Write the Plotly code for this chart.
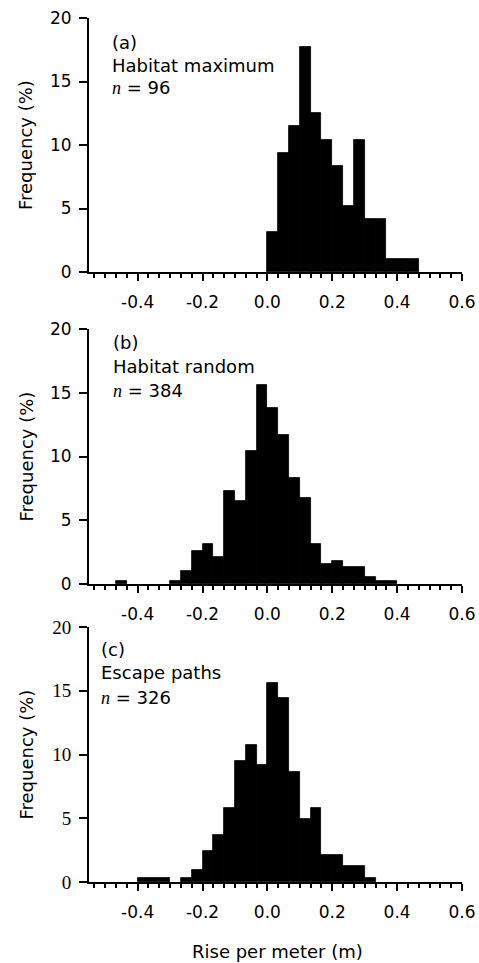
import plotly.graph_objects as go

# ---- data (bin left edges in m, frequencies in %) ----
BIN_WIDTH = 1 / 30

a_left = [0.000, 0.03333, 0.06667, 0.100, 0.13333, 0.16667, 0.200, 0.23333, 0.26667, 0.300, 0.33333, 0.36667, 0.400, 0.43333]
a_freq = [3.13, 9.38, 11.46, 17.71, 12.50, 10.42, 8.33, 5.21, 10.42, 4.17, 4.17, 1.04, 1.04, 1.04]

b_left = [-0.46667, -0.300, -0.26667, -0.23333, -0.200, -0.16667, -0.13333, -0.100, -0.06667, -0.03333,
          0.000, 0.03333, 0.06667, 0.100, 0.13333, 0.16667, 0.200, 0.23333, 0.26667, 0.300, 0.33333, 0.36667]
b_freq = [0.26, 0.26, 1.04, 2.60, 3.13, 2.08, 7.29, 6.51, 10.42, 15.63,
          13.80, 11.72, 8.33, 6.77, 3.13, 1.56, 1.82, 1.30, 1.30, 0.52, 0.26, 0.26]

c_left = [-0.400, -0.36667, -0.33333, -0.26667, -0.23333, -0.200, -0.16667, -0.13333, -0.100, -0.06667, -0.03333,
          0.000, 0.03333, 0.06667, 0.100, 0.13333, 0.16667, 0.200, 0.23333, 0.26667, 0.300]
c_freq = [0.31, 0.31, 0.31, 0.31, 0.92, 2.45, 3.68, 5.83, 9.51, 10.74, 9.20,
          15.64, 14.42, 8.59, 4.91, 5.83, 2.15, 2.15, 1.23, 1.23, 0.31]

panel_letters = ["(a)", "(b)", "(c)"]
panel_names = ["Habitat maximum", "Habitat random", "Escape paths"]
panel_n = [96, 384, 326]

x_tickvals = [-0.4, -0.2, 0.0, 0.2, 0.4, 0.6]
x_ticktext = ["-0.4", "-0.2", "0.0", "0.2", "0.4", "0.6"]
y_tickvals = [0, 5, 10, 15, 20]
y_ticktext = ["0", "5", "10", "15", "20"]

# ---- layout geometry (pixels) ----
W, H = 479, 963
L, R, T, B = 89, 17, 18, 81
plot_h = H - T - B
panels_px = [(18, 272), (329, 584), (627, 882)]  # (top, bottom) of each plot area


def py(p):
    return (H - B - p) / plot_h


def px(p):
    return (p - L) / (W - L - R)


SANS = "DejaVu Sans"
SERIF = "Liberation Serif"

fig = go.Figure()
series = [(a_left, a_freq), (b_left, b_freq), (c_left, c_freq)]
for i, (xl, yv) in enumerate(series):
    k = "" if i == 0 else str(i + 1)
    fig.add_trace(go.Bar(
        x=xl, y=yv, width=BIN_WIDTH, offset=0,
        marker=dict(color="black", line=dict(width=0.8, color="black")),
        xaxis="x" + k, yaxis="y" + k, showlegend=False, hoverinfo="x+y",
    ))

layout = dict(
    width=W, height=H, autosize=False,
    margin=dict(l=L, r=R, t=T, b=B, autoexpand=False),
    paper_bgcolor="white", plot_bgcolor="white",
    bargap=0,
    font=dict(family=SANS, size=17, color="black"),
    annotations=[],
)

for i, (top, bot) in enumerate(panels_px):
    k = "" if i == 0 else str(i + 1)
    layout["xaxis" + k] = dict(
        domain=[0, 1], anchor="y" + k, range=[-0.55, 0.6],
        tickvals=x_tickvals, ticktext=x_ticktext,
        ticks="outside", ticklen=7, tickwidth=2, tickcolor="black",
        minor=dict(dtick=BIN_WIDTH, tick0=0, ticks="outside", ticklen=4, tickwidth=1.5, tickcolor="black"),
        showline=True, linecolor="black", linewidth=2,
        showgrid=False, zeroline=False, fixedrange=True, automargin=False,
        tickfont=dict(family=SANS, size=17), ticklabelstandoff=7,
        ticklabeloverflow="allow",
    )
    layout["yaxis" + k] = dict(
        domain=[py(bot), py(top)], anchor="x" + k, range=[0, 20],
        tickvals=y_tickvals, ticktext=y_ticktext,
        ticks="outside", ticklen=8, tickwidth=2, tickcolor="black",
        showline=True, linecolor="black", linewidth=2,
        showgrid=False, zeroline=False, fixedrange=True, automargin=False,
        tickfont=dict(family=SERIF if i == 2 else SANS, size=19 if i == 2 else 17),
        ticklabelstandoff=4,
    )
    # y-axis title
    layout["annotations"].append(dict(
        text="Frequency (%)", textangle=-90, xref="paper", yref="paper",
        x=px(26), y=py((top + bot) / 2), xanchor="center", yanchor="middle",
        showarrow=False, font=dict(family=SANS, size=18),
    ))

text_pos = [(110, 42, 65, 88), (111, 342, 366, 390), (99, 650, 672, 697)]
for i in range(3):
    x0, y1, y2, y3 = text_pos[i]
    lines = [
        (panel_letters[i], y1),
        (panel_names[i], y2),
        ("<span style='font-family:Liberation Serif;font-style:italic'>n</span> = %d" % panel_n[i], y3),
    ]
    for txt, yy in lines:
        layout["annotations"].append(dict(
            text=txt, xref="paper", yref="paper", x=px(x0), y=py(yy),
            xanchor="left", yanchor="middle", showarrow=False,
            font=dict(family=SANS, size=18),
        ))

layout["annotations"].append(dict(
    text="Rise per meter (m)", xref="paper", yref="paper",
    x=px(277), y=py(951), xanchor="center", yanchor="middle",
    showarrow=False, font=dict(family=SANS, size=18),
))

fig.update_layout(**layout)
fig.write_html(
    "out.html",
    config={"responsive": False, "displayModeBar": False},
    post_script="document.body.style.margin='0';",
)
